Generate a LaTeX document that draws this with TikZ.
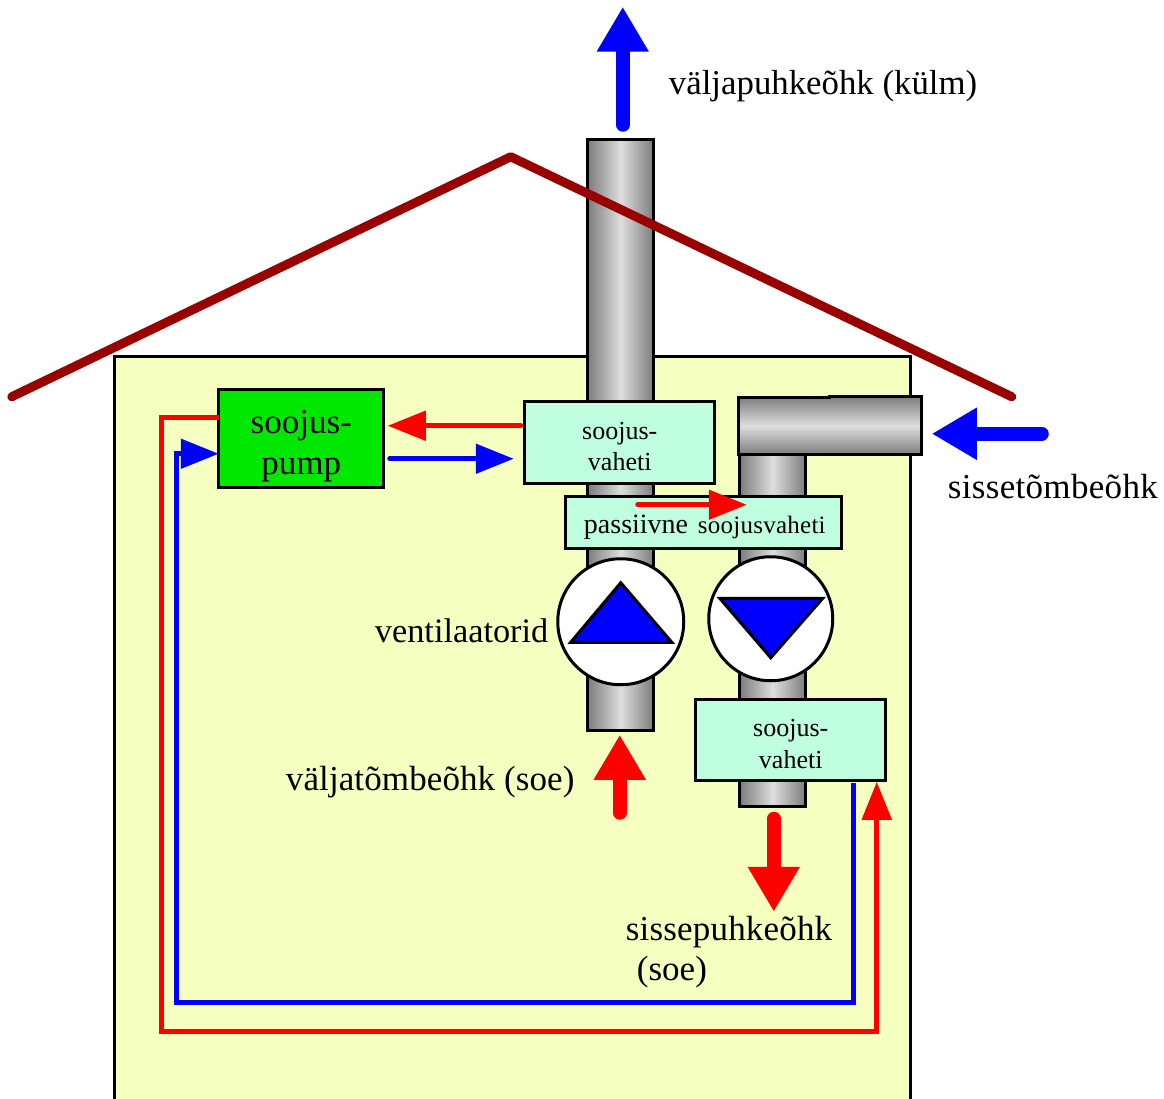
\documentclass[tikz,border=0pt]{standalone}
\usepackage{fontspec}
\setmainfont{Liberation Serif}
\usetikzlibrary{arrows.meta}
\definecolor{houseyellow}{HTML}{F5FFC0}
\definecolor{mint}{HTML}{BFFFDF}
\definecolor{roofred}{HTML}{990000}
\definecolor{pipedark}{HTML}{7C7C7C}
\definecolor{pipelight}{HTML}{DEDEDE}
\definecolor{pumpgreen}{HTML}{00E800}
\newcommand{\spaced}[1]{\addfontfeature{LetterSpace=#1}}
\tikzset{
  pipe/.style={draw=black,line width=3pt,inner sep=0pt,outer sep=0pt,left color=pipedark,right color=pipedark,middle color=pipelight},
  hxbox/.style={draw=black,line width=3pt,fill=mint,inner sep=0pt,outer sep=0pt},
  pumpbox/.style={draw=black,line width=3pt,fill=pumpgreen,inner sep=0pt,outer sep=0pt},
  hxtext/.style={inner sep=0pt,align=center,font=\fontsize{26}{31.5}\selectfont},
  pumptext/.style={inner sep=0pt,align=center,font=\fontsize{35}{41}\selectfont},
  fan/.style={circle,draw=black,line width=3pt,fill=white,inner sep=0pt,outer sep=0pt},
  fantri/.style={draw=black,line width=3pt,fill=blue,line join=miter},
  label/.style={anchor=base west,inner sep=0pt,font=\fontsize{35}{38}\selectfont},
  bigarrow/.style={line width=14pt,line cap=round,-{Triangle[length=45pt,width=49pt]}},
  thin arrow/.style={line width=5pt,line cap=round,-{Triangle[length=38pt,width=29pt]}},
}
\begin{document}
\begin{tikzpicture}[x=1pt,y=-1pt]
\useasboundingbox (0.25,0.25) rectangle (1164.25,1099.25);
\fill[white] (0,0) rectangle (1165,1100);
% house
\fill[houseyellow] (115,1100) -- (115,357) -- (911,357) -- (911,1100) -- cycle;
\draw[line width=3pt] (115,1102) -- (115,357) -- (911,357) -- (911,1102);
% pipes
\node[pipe,minimum width=66pt,minimum height=591pt] (exhaust) at (621,435.5) {};
\node[pipe,minimum width=66pt,minimum height=352pt] (supply) at (773,631) {};
\draw[line width=3pt,top color=pipedark,bottom color=pipedark,middle color=pipelight]
  (739,398) -- (830,398) -- (830,397) -- (922,397) -- (922,455) -- (739,455) -- cycle;
% boxes
\node[hxbox,minimum width=190pt,minimum height=82pt] (hxa) at (620,443) {};
\node[hxtext,yshift=-4pt] (hxatext) at (hxa) {soojus-\\vaheti};
\node[hxbox,minimum width=276pt,minimum height=52pt] (hxp) at (704,523) {};
\node[anchor=base west,inner sep=0pt,font=\fontsize{28}{31}\selectfont] (hxptexta) at (584,534) {passiivne};
\node[anchor=base west,inner sep=0pt,font=\fontsize{25}{31}\selectfont\spaced{1}] (hxptextb) at (698,534) {soojusvaheti};
\node[hxbox,minimum width=190pt,minimum height=81pt] (hxb) at (791,740.5) {};
\node[hxtext,yshift=-4pt] (hxbtext) at (hxb) {soojus-\\vaheti};
\node[pumpbox,minimum width=165pt,minimum height=98pt] (pump) at (301.5,439) {};
\node[pumptext,yshift=-7pt] (pumptext) at (pump) {soojus-\\pump};
% fans
\node[fan,minimum size=126pt] (fana) at (621,622) {};
\node[fan,minimum size=124pt] (fanb) at (771,619) {};
\draw[fantri] (621,583) -- (571,642.5) -- (672,642.5) -- cycle;
\draw[fantri] (720,598.5) -- (823,598.5) -- (771,658) -- cycle;
% roof
\coordinate (eaveL) at (12,397);
\coordinate (ridge) at (511,157);
\coordinate (eaveR) at (1012,397);
\draw[roofred,line width=9pt,line cap=round,line join=round] (eaveL) -- (ridge) -- (eaveR);
% free ends of the big arrows
\coordinate (outTip) at (623,7);
\coordinate (outTail) at (623,125);
\coordinate (inTail) at (1042,434);
\coordinate (inTip) at (932,434);
\coordinate (exTail) at (620,813);
\coordinate (exTip) at (620,735);
\coordinate (suTail) at (774,819);
\coordinate (suTip) at (774,912);
\draw[bigarrow,blue] (outTail) -- (outTip);
\draw[bigarrow,blue] (inTail) -- (inTip);
\draw[bigarrow,red] (exTail) -- (exTip);
\draw[bigarrow,red] (suTail) -- (suTip);
% thin arrows
\draw[thin arrow,red] ([yshift=17pt,xshift=-4pt]hxa.west) -- ([yshift=13pt,xshift=4pt]pump.east);
\draw[thin arrow,blue] ([yshift=-20pt,xshift=6pt]pump.east) -- ([yshift=-16pt,xshift=-11pt]hxa.west);
\draw[thin arrow,red] ([xshift=-66pt,yshift=-8pt]hxp.north) -- ([xshift=43pt,yshift=-8pt]hxp.north);
% circuits
\draw[line width=5pt,blue,-{Triangle[length=38pt,width=29pt]}]
  ([xshift=63pt,yshift=-2pt]hxb.south) -- ++(0,220) -- (177,1003) -- (177,454) -- (pump.west |- 0,454);
\draw[line width=5pt,red,-{Triangle[length=38pt,width=29pt]}]
  ([yshift=21pt]pump.west) -- (162,418) -- (162,1032) -- (877,1032) -- (877,782);
% labels
\node[label,font=\fontsize{34.8}{38}\selectfont] (l1) at (669,95) {väljapuhkeõhk (külm)};
\node[label,font=\fontsize{35}{38}\selectfont\spaced{0.9}] (l2) at (948,498.5) {sissetõmbeõhk};
\node[label,font=\fontsize{34.3}{38}\selectfont] (l3) at (375,642.5) {ventilaatorid};
\node[label,font=\fontsize{35}{38}\selectfont\spaced{0.3}] (l4) at (286,790.5) {väljatõmbeõhk (soe)};
\node[label,font=\fontsize{35}{38}\selectfont\spaced{0.5}] (l5) at (626,940.5) {sissepuhkeõhk};
\node[label] (l6) at (637,980.5) {(soe)};
\end{tikzpicture}
\end{document}
